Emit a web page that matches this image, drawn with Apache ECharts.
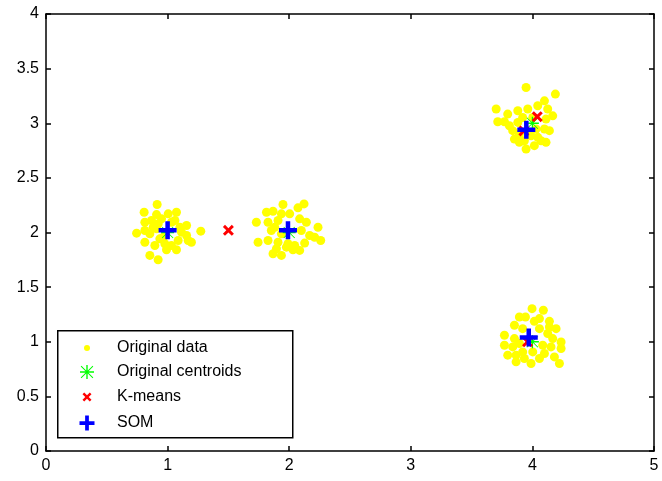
<!DOCTYPE html>
<html>
<head>
<meta charset="utf-8">
<script src="https://cdn.jsdelivr.net/npm/echarts@6/dist/echarts.min.js"></script>
<style>html,body{margin:0;padding:0;background:#fff}#c{width:662px;height:481px}</style>
</head>
<body>
<div id="c"></div>
<script>
// ---- data ----
var xTicks = [0, 1, 2, 3, 4, 5];
var yTicks = [0, 0.5, 1, 1.5, 2, 2.5, 3, 3.5, 4];
var seriesNames = ['Original data', 'Original centroids', 'K-means', 'SOM'];

var clusterA = [[0.914,2.256],[0.807,2.185],[0.909,2.164],[1.005,2.171],[1.073,2.185],[0.813,2.094],[0.868,2.110],[0.950,2.125],[1.060,2.110],[0.745,1.994],[0.854,1.988],[0.909,2.034],[1.156,2.064],[1.273,2.012],[1.169,1.927],[1.196,1.911],[0.813,1.911],[0.895,1.881],[0.977,1.897],[1.087,1.927],[0.854,1.790],[0.922,1.751],[0.991,1.842],[1.073,1.842],[1.032,1.881],[1.114,2.003],[1.101,2.048],[0.964,1.957],[0.882,2.048],[1.156,1.973],[0.923,2.079],[1.032,2.094],[0.936,1.942],[0.813,2.018]];
var clusterB = [[1.949,2.256],[2.122,2.262],[1.813,2.185],[1.867,2.195],[1.936,2.171],[2.004,2.171],[2.072,2.226],[1.730,2.094],[1.826,2.094],[1.908,2.110],[2.086,2.125],[2.141,2.094],[2.237,2.048],[1.853,2.018],[2.100,2.018],[2.168,1.973],[2.209,1.957],[2.259,1.927],[1.744,1.911],[1.826,1.927],[1.908,1.911],[1.990,1.897],[2.127,1.903],[1.895,1.851],[1.977,1.866],[2.031,1.842],[2.086,1.836],[1.867,1.805],[1.936,1.790],[2.045,1.881],[1.881,2.048],[1.936,1.988]];
var clusterC = [[3.948,3.327],[4.189,3.267],[3.702,3.130],[3.715,3.014],[3.770,3.014],[3.797,3.084],[3.880,3.114],[3.962,3.130],[4.044,3.160],[4.099,3.205],[4.126,3.130],[4.167,3.068],[4.112,3.038],[4.099,2.947],[4.071,2.840],[4.112,2.825],[4.016,2.795],[3.948,2.764],[3.893,2.825],[3.852,2.855],[3.838,2.932],[3.811,2.977],[3.880,3.008],[3.920,3.053],[4.003,3.053],[4.044,2.871],[3.989,2.886],[3.893,2.901],[4.140,2.932],[4.030,2.947],[3.934,2.840]];
var clusterD = [[3.997,1.303],[4.090,1.288],[3.893,1.227],[3.943,1.227],[4.016,1.187],[4.058,1.212],[4.140,1.187],[3.852,1.151],[3.920,1.120],[4.058,1.120],[4.140,1.135],[4.195,1.120],[3.770,1.059],[3.852,1.029],[4.126,1.075],[4.167,1.029],[4.236,0.998],[3.770,0.968],[3.838,0.953],[3.893,0.984],[4.085,0.968],[4.153,0.953],[4.236,0.938],[3.797,0.877],[3.866,0.877],[3.920,0.907],[4.003,0.907],[4.099,0.892],[4.181,0.861],[3.866,0.816],[3.989,0.801],[4.222,0.801],[3.934,0.847],[4.058,0.847]];
var originalCentroids = [[1,2],[2,2],[4,3],[4,1]];
var kmeansCentroids = [[1.50,2.02],[4.04,3.06],[3.93,2.93],[3.96,1.00]];
var somCentroids = [[1.00,2.02],[1.99,2.02],[3.95,2.94],[3.97,1.04]];

// ---- chart ----
var originalData = clusterA.concat(clusterB, clusterC, clusterD);
var PLUS = 'path://M6,0h4v6h6v4h-6v6h-4v-6h-6v-4h6z';
var XMARK = 'path://M0,1.9L1.9,0L5,3.1L8.1,0L10,1.9L6.9,5L10,8.1L8.1,10L5,6.9L1.9,10L0,8.1L3.1,5z';
var STAR = 'path://M9,0h2v9h9v2h-9v9h-2v-9h-9v-2h9zM1,2L2,1L19,18L18,19zM18,1L19,2L2,19L1,18z';
var FONT = 'Liberation Sans, Arial, sans-serif';

function axisCommon() {
  return {
    axisLine: {show: true, onZero: false, lineStyle: {color: '#000', width: 1.5}},
    axisTick: {show: true, inside: true, length: 5, lineStyle: {color: '#000', width: 1.5}},
    splitLine: {show: false}
  };
}

function legendFor(name, cy, size) {
  var iconCenter = 87, textX = 117, left = iconCenter - size / 2;
  var pad = textX - (left + size + 5);
  return {
    data: [name], orient: 'vertical', left: left, top: cy - 8, padding: 0,
    itemWidth: size, itemHeight: size, selectedMode: false, z: 10,
    textStyle: {fontFamily: FONT, fontSize: 16, color: '#000', lineHeight: 16, padding: [0, 0, 0, pad]}
  };
}

var chart = echarts.init(document.getElementById('c'), null, {renderer: 'canvas'});
chart.setOption({
  animation: false,
  backgroundColor: '#fff',
  grid: {left: 46, right: 8, top: 14, bottom: 30, containLabel: false},
  xAxis: [
    Object.assign({type: 'value', min: xTicks[0], max: xTicks[xTicks.length - 1], interval: 1, position: 'bottom',
      axisLabel: {color: '#000', fontFamily: FONT, fontSize: 16, margin: 7}}, axisCommon()),
    Object.assign({type: 'value', min: xTicks[0], max: xTicks[xTicks.length - 1], interval: 1, position: 'top',
      axisLabel: {show: false}}, axisCommon())
  ],
  yAxis: [
    Object.assign({type: 'value', min: yTicks[0], max: yTicks[yTicks.length - 1], interval: 0.5, position: 'left',
      axisLabel: {color: '#000', fontFamily: FONT, fontSize: 16, margin: 7}}, axisCommon()),
    Object.assign({type: 'value', min: yTicks[0], max: yTicks[yTicks.length - 1], interval: 0.5, position: 'right',
      axisLabel: {show: false}}, axisCommon())
  ],
  legend: [
    legendFor(seriesNames[0], 348, 6),
    legendFor(seriesNames[1], 372, 14),
    legendFor(seriesNames[2], 397, 9),
    legendFor(seriesNames[3], 423, 15)
  ],
  graphic: [{
    type: 'rect', z: 5, left: 57, top: 330,
    shape: {x: 0, y: 0, width: 235, height: 107},
    style: {fill: '#fff', stroke: '#000', lineWidth: 1.5}
  }],
  series: [
    {name: seriesNames[0], type: 'scatter', data: originalData, symbol: 'circle', symbolSize: 9,
      itemStyle: {color: '#ffff00', opacity: 1}, z: 2},
    {name: seriesNames[1], type: 'scatter', data: originalCentroids, symbol: STAR, symbolSize: 13,
      itemStyle: {color: '#00ff00', opacity: 1}, z: 3},
    {name: seriesNames[2], type: 'scatter', data: kmeansCentroids, symbol: XMARK, symbolSize: 11,
      itemStyle: {color: '#ff0000', opacity: 1}, z: 4},
    {name: seriesNames[3], type: 'scatter', data: somCentroids, symbol: PLUS, symbolSize: 18,
      itemStyle: {color: '#0000ff', opacity: 1}, z: 5}
  ]
});
</script>
</body>
</html>
